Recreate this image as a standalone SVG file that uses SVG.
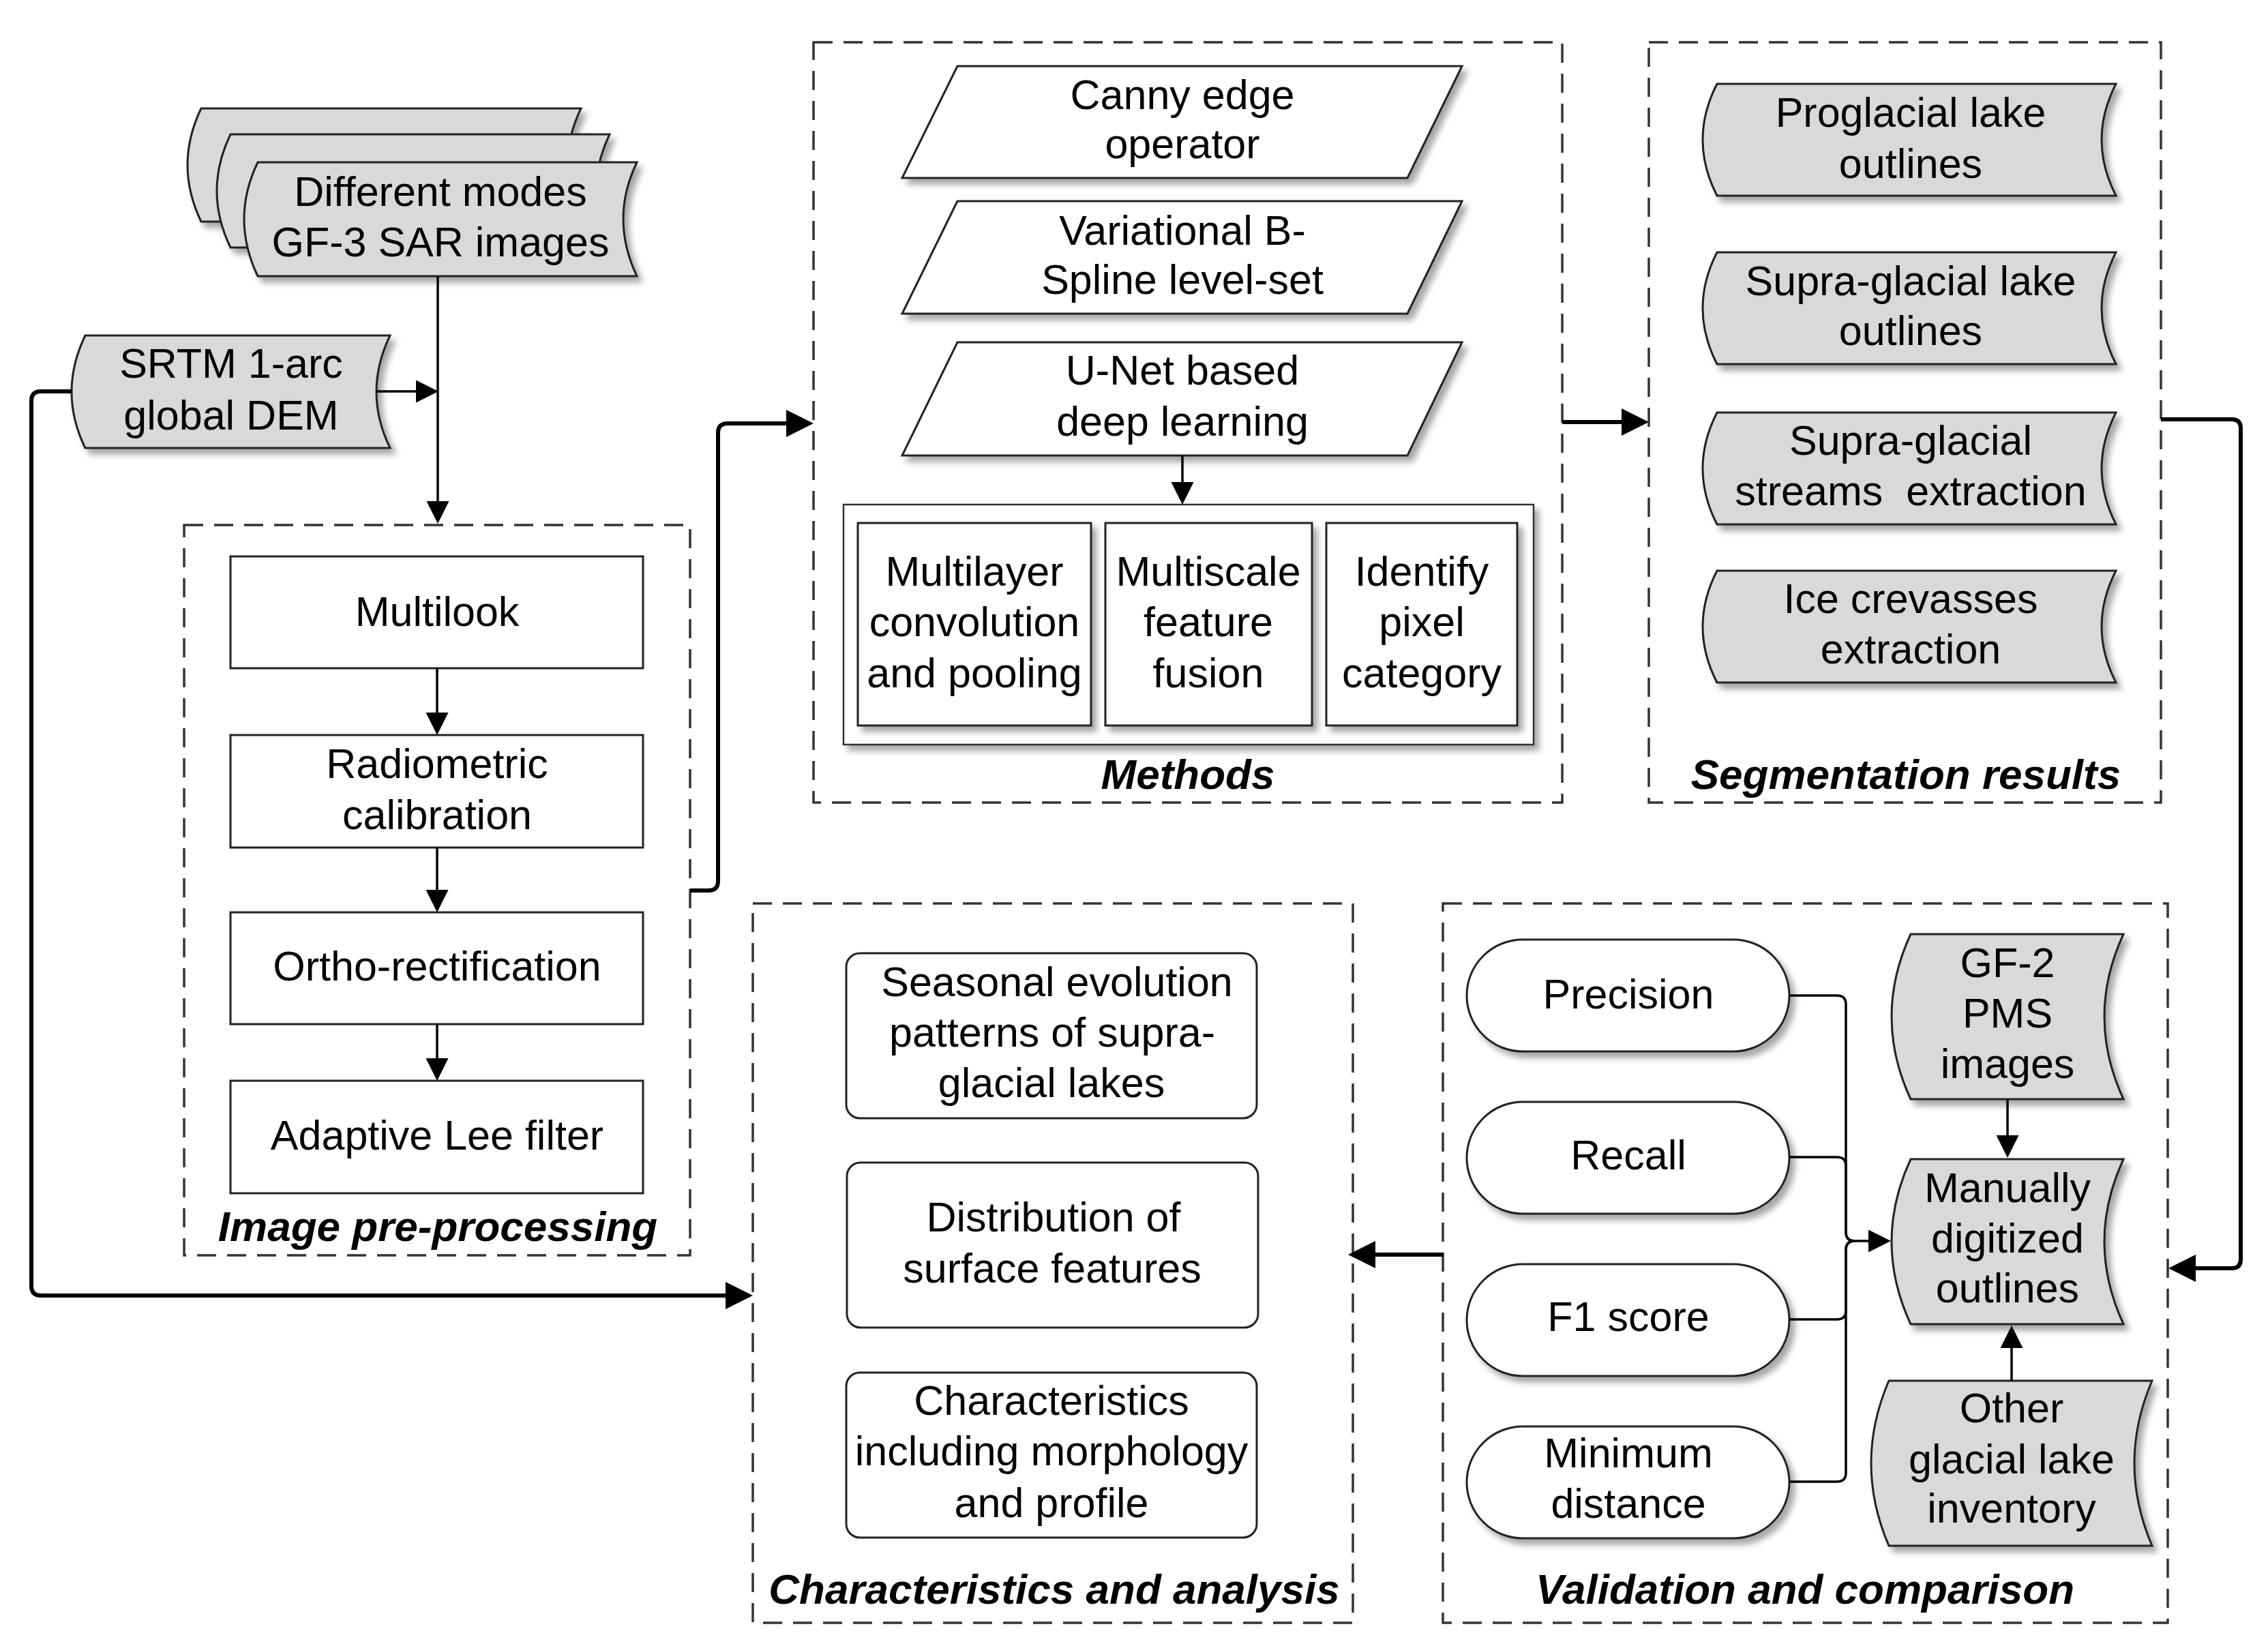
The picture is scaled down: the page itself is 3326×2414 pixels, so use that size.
<svg xmlns="http://www.w3.org/2000/svg" width="3326" height="2414" viewBox="0 0 3326 2414">
<defs>
<style>
.t{font-family:"Liberation Sans",Arial,sans-serif;font-size:61px;text-anchor:middle;fill:#000}
.h{font-family:"Liberation Sans",Arial,sans-serif;font-size:62px;font-weight:bold;font-style:italic;text-anchor:middle;fill:#000}
.dash{fill:none;stroke:#333;stroke-width:3.5;stroke-dasharray:28 16}
.gray{fill:#d9d9d9;stroke:#222;stroke-width:3}
.wht{fill:#fff;stroke:#222;stroke-width:3}
.thin{fill:none;stroke:#000;stroke-width:3.5}
.thick{fill:none;stroke:#000;stroke-width:6}
</style>
<filter id="sh" x="-10%" y="-10%" width="125%" height="135%">
<feDropShadow dx="7" dy="8" stdDeviation="5" flood-color="#000" flood-opacity="0.35"/>
</filter>
<marker id="at" viewBox="0 0 33 33" refX="25" refY="16.5" markerWidth="33" markerHeight="33" orient="auto" markerUnits="userSpaceOnUse"><path d="M0,0 L33,16.5 L0,33 z" fill="#000"/></marker>
<marker id="ak" viewBox="0 0 40 40" refX="28" refY="20" markerWidth="40" markerHeight="40" orient="auto" markerUnits="userSpaceOnUse"><path d="M0,0 L40,20 L0,40 z" fill="#000"/></marker>
</defs>
<rect width="3326" height="2414" fill="#fff"/>

<!-- group boxes -->
<g id="group-preprocessing">
<rect class="dash" x="270" y="770" width="742" height="1071"/>
<text class="h" x="642" y="1820">Image pre-processing</text>
</g>
<g id="group-methods">
<rect class="dash" x="1193" y="62" width="1098" height="1115"/>
<text class="h" x="1742" y="1157">Methods</text>
</g>
<g id="group-segmentation">
<rect class="dash" x="2418" y="62" width="751" height="1115"/>
<text class="h" x="2795" y="1157">Segmentation results</text>
</g>
<g id="group-characteristics">
<rect class="dash" x="1104" y="1325" width="880" height="1055"/>
<text class="h" x="1546" y="2352">Characteristics and analysis</text>
</g>
<g id="group-validation">
<rect class="dash" x="2116" y="1325" width="1063" height="1055"/>
<text class="h" x="2647" y="2352">Validation and comparison</text>
</g>

<!-- inputs -->
<g id="node-gf3">
<path class="gray" filter="url(#sh)" d="M295,159 H852 Q812,242 852,325 H295 Q255,242 295,159 Z"/>
<path class="gray" filter="url(#sh)" d="M338,197 H894 Q854,280 894,363 H338 Q298,280 338,197 Z"/>
<path class="gray" filter="url(#sh)" d="M378,238 H934 Q894,321 934,405 H378 Q338,321 378,238 Z"/>
<text class="t" x="646" y="302">Different modes</text>
<text class="t" x="646" y="376">GF-3 SAR images</text>
</g>
<g id="node-srtm">
<path class="gray" filter="url(#sh)" d="M125,492 H572 Q532,575 572,657 H125 Q85,575 125,492 Z"/>
<text class="t" x="339" y="554">SRTM 1-arc</text>
<text class="t" x="339" y="630">global DEM</text>
</g>

<!-- preprocessing -->
<g id="node-multilook">
<rect class="wht" x="338" y="816" width="605" height="164"/>
<text class="t" x="641" y="918">Multilook</text>
</g>
<g id="node-radiometric">
<rect class="wht" x="338" y="1078" width="605" height="165"/>
<text class="t" x="641" y="1141">Radiometric</text>
<text class="t" x="641" y="1216">calibration</text>
</g>
<g id="node-ortho">
<rect class="wht" x="338" y="1338" width="605" height="164"/>
<text class="t" x="641" y="1438">Ortho-rectification</text>
</g>
<g id="node-lee">
<rect class="wht" x="338" y="1585" width="605" height="165"/>
<text class="t" x="641" y="1686">Adaptive Lee filter</text>
</g>

<!-- methods -->
<g id="node-canny">
<path class="wht" filter="url(#sh)" d="M1404,97 H2144 L2064,261 H1323 Z"/>
<text class="t" x="1734" y="160">Canny edge</text>
<text class="t" x="1734" y="232">operator</text>
</g>
<g id="node-vbls">
<path class="wht" filter="url(#sh)" d="M1404,295 H2144 L2064,460 H1323 Z"/>
<text class="t" x="1734" y="359">Variational B-</text>
<text class="t" x="1734" y="431">Spline level-set</text>
</g>
<g id="node-unet">
<path class="wht" filter="url(#sh)" d="M1404,502 H2144 L2064,668 H1323 Z"/>
<text class="t" x="1734" y="564">U-Net based</text>
<text class="t" x="1734" y="639">deep learning</text>
</g>
<g id="node-unet-steps">
<rect x="1237" y="740" width="1012" height="352" fill="#fff" stroke="#333" stroke-width="2.5" filter="url(#sh)"/>
</g>
<g id="node-multilayer">
<rect class="wht" filter="url(#sh)" x="1258" y="767" width="342" height="297"/>
<text class="t" x="1429" y="859">Multilayer</text>
<text class="t" x="1429" y="933">convolution</text>
<text class="t" x="1429" y="1008">and pooling</text>
</g>
<g id="node-multiscale">
<rect class="wht" filter="url(#sh)" x="1621" y="767" width="303" height="297"/>
<text class="t" x="1772" y="859">Multiscale</text>
<text class="t" x="1772" y="933">feature</text>
<text class="t" x="1772" y="1008">fusion</text>
</g>
<g id="node-identify">
<rect class="wht" filter="url(#sh)" x="1945" y="767" width="280" height="297"/>
<text class="t" x="2085" y="859">Identify</text>
<text class="t" x="2085" y="933">pixel</text>
<text class="t" x="2085" y="1008">category</text>
</g>

<!-- segmentation results -->
<g id="node-proglacial">
<path class="gray" filter="url(#sh)" d="M2518,123 H3103 Q3061,205 3103,287 H2518 Q2476,205 2518,123 Z"/>
<text class="t" x="2802" y="186">Proglacial lake</text>
<text class="t" x="2802" y="261">outlines</text>
</g>
<g id="node-supralake">
<path class="gray" filter="url(#sh)" d="M2518,370 H3103 Q3061,452 3103,534 H2518 Q2476,452 2518,370 Z"/>
<text class="t" x="2802" y="433">Supra-glacial lake</text>
<text class="t" x="2802" y="506">outlines</text>
</g>
<g id="node-streams">
<path class="gray" filter="url(#sh)" d="M2518,605 H3103 Q3061,687 3103,769 H2518 Q2476,687 2518,605 Z"/>
<text class="t" x="2802" y="667">Supra-glacial</text>
<text class="t" x="2802" y="741">streams&#160; extraction</text>
</g>
<g id="node-crevasses">
<path class="gray" filter="url(#sh)" d="M2518,837 H3103 Q3061,919 3103,1001 H2518 Q2476,919 2518,837 Z"/>
<text class="t" x="2802" y="899">Ice crevasses</text>
<text class="t" x="2802" y="973">extraction</text>
</g>

<!-- characteristics -->
<g id="node-seasonal">
<rect class="wht" x="1241" y="1398" width="602" height="242" rx="20"/>
<text class="t" x="1550" y="1461">Seasonal evolution</text>
<text class="t" x="1543" y="1535">patterns of supra-</text>
<text class="t" x="1542" y="1609">glacial lakes</text>
</g>
<g id="node-distribution">
<rect class="wht" x="1242" y="1705" width="603" height="242" rx="20"/>
<text class="t" x="1545" y="1806">Distribution of</text>
<text class="t" x="1543" y="1881">surface features</text>
</g>
<g id="node-morphology">
<rect class="wht" x="1241" y="2013" width="602" height="242" rx="20"/>
<text class="t" x="1542" y="2075">Characteristics</text>
<text class="t" x="1542" y="2149">including morphology</text>
<text class="t" x="1542" y="2225">and profile</text>
</g>

<!-- validation -->
<g id="node-precision">
<rect class="wht" filter="url(#sh)" x="2151" y="1378" width="473" height="164" rx="82"/>
<text class="t" x="2388" y="1479">Precision</text>
</g>
<g id="node-recall">
<rect class="wht" filter="url(#sh)" x="2151" y="1616" width="473" height="164" rx="82"/>
<text class="t" x="2388" y="1715">Recall</text>
</g>
<g id="node-f1">
<rect class="wht" filter="url(#sh)" x="2151" y="1854" width="473" height="164" rx="82"/>
<text class="t" x="2388" y="1952">F1 score</text>
</g>
<g id="node-mindist">
<rect class="wht" filter="url(#sh)" x="2151" y="2092" width="473" height="164" rx="82"/>
<text class="t" x="2388" y="2152">Minimum</text>
<text class="t" x="2388" y="2226">distance</text>
</g>
<g id="node-gf2">
<path class="gray" filter="url(#sh)" d="M2802,1370 H3114 Q3058,1491 3114,1612 H2802 Q2746,1491 2802,1370 Z"/>
<text class="t" x="2944" y="1433">GF-2</text>
<text class="t" x="2944" y="1507">PMS</text>
<text class="t" x="2944" y="1581">images</text>
</g>
<g id="node-manual">
<path class="gray" filter="url(#sh)" d="M2802,1700 H3114 Q3058,1821 3114,1942 H2802 Q2746,1821 2802,1700 Z"/>
<text class="t" x="2944" y="1763">Manually</text>
<text class="t" x="2944" y="1837">digitized</text>
<text class="t" x="2944" y="1910">outlines</text>
</g>
<g id="node-inventory">
<path class="gray" filter="url(#sh)" d="M2770,2025 H3156 Q3104,2146 3156,2267 H2770 Q2718,2146 2770,2025 Z"/>
<text class="t" x="2950" y="2086">Other</text>
<text class="t" x="2950" y="2161">glacial lake</text>
<text class="t" x="2950" y="2233">inventory</text>
</g>

<!-- connectors -->
<g id="connectors">
<path class="thin" d="M642,405 V760" marker-end="url(#at)"/>
<path class="thin" d="M552,574 H635" marker-end="url(#at)"/>
<path class="thin" d="M641,980 V1070" marker-end="url(#at)"/>
<path class="thin" d="M641,1243 V1330" marker-end="url(#at)"/>
<path class="thin" d="M641,1502 V1577" marker-end="url(#at)"/>
<path class="thin" d="M1734,668 V732" marker-end="url(#at)"/>
<path class="thin" d="M2944,1612 V1690" marker-end="url(#at)"/>
<path class="thin" d="M2950,2025 V1952" marker-end="url(#at)"/>
<path class="thin" d="M2624,1460 H2694 Q2707,1460 2707,1473 V1807 Q2707,1820 2720,1820 H2765" marker-end="url(#at)"/>
<path class="thin" d="M2624,1697 H2694 Q2707,1697 2707,1710 V1807 Q2707,1820 2720,1820"/>
<path class="thin" d="M2624,1935 H2694 Q2707,1935 2707,1922 V1833 Q2707,1820 2720,1820"/>
<path class="thin" d="M2624,2173 H2694 Q2707,2173 2707,2160 V1833 Q2707,1820 2720,1820"/>
<path class="thick" d="M105,574 H60 Q46,574 46,588 V1886 Q46,1900 60,1900 H1092" marker-end="url(#ak)"/>
<path class="thick" d="M1012,1306 H1039 Q1053,1306 1053,1292 V635 Q1053,621 1067,621 H1181" marker-end="url(#ak)"/>
<path class="thick" d="M2291,619 H2406" marker-end="url(#ak)"/>
<path class="thick" d="M3169,615 H3273 Q3286,615 3286,628 V1847 Q3286,1860 3273,1860 H3192" marker-end="url(#ak)"/>
<path class="thick" d="M2117,1840 H1989" marker-end="url(#ak)"/>
</g>
</svg>
